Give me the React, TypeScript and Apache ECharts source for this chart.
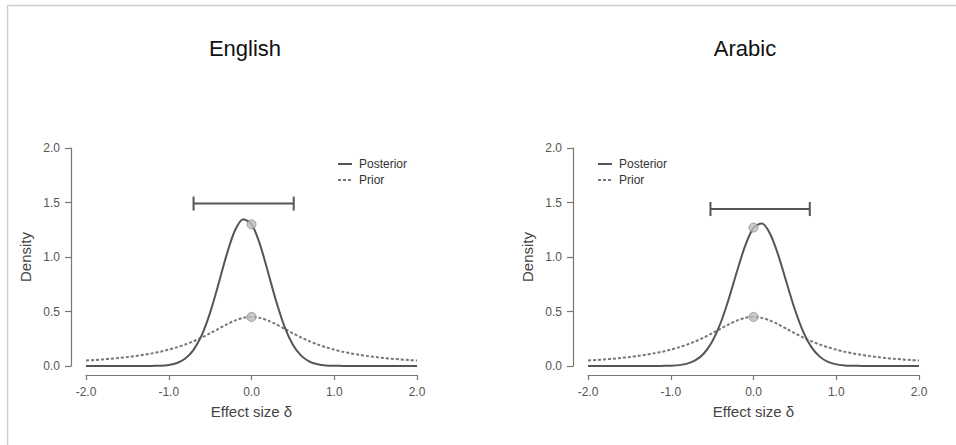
import React, { useEffect, useRef } from "react";
import * as echarts from "echarts";

const panelTitles = ["English", "Arabic"];
const seriesNames = ["Posterior", "Prior"];
const xTickLabels = ["-2.0", "-1.0", "0.0", "1.0", "2.0"];
const yTickLabels = ["0.0", "0.5", "1.0", "1.5", "2.0"];

const effectSize = [
  -2.0, -1.9, -1.8, -1.7, -1.6, -1.5, -1.4, -1.3, -1.2, -1.1, -1.0, -0.9, -0.8, -0.7,
  -0.6, -0.5, -0.4, -0.3, -0.2, -0.1, 0.0, 0.1, 0.2, 0.3, 0.4, 0.5, 0.6, 0.7, 0.8,
  0.9, 1.0, 1.1, 1.2, 1.3, 1.4, 1.5, 1.6, 1.7, 1.8, 1.9, 2.0,
];

const englishPosterior = [
  0.0, 0.0, 0.0, 0.0, 0.0, 0.0, 0.0, 0.0, 0.001, 0.003, 0.01, 0.028, 0.069, 0.148,
  0.285, 0.49, 0.749, 1.022, 1.243, 1.347, 1.301, 1.121, 0.86, 0.589, 0.359, 0.195,
  0.095, 0.041, 0.016, 0.005, 0.002, 0.001, 0.0, 0.0, 0.0, 0.0, 0.0, 0.0, 0.0, 0.0, 0.0,
];

const arabicPosterior = [
  0.0, 0.0, 0.0, 0.0, 0.0, 0.0, 0.0, 0.0, 0.0, 0.001, 0.003, 0.008, 0.022, 0.053,
  0.115, 0.223, 0.39, 0.613, 0.867, 1.104, 1.267, 1.307, 1.214, 1.015, 0.764, 0.518,
  0.316, 0.173, 0.086, 0.038, 0.015, 0.005, 0.002, 0.001, 0.0, 0.0, 0.0, 0.0, 0.0, 0.0, 0.0,
];

const priorDensity = [
  0.05, 0.0548, 0.0602, 0.0664, 0.0736, 0.0819, 0.0915, 0.1028, 0.116, 0.1316, 0.1501,
  0.1718, 0.1975, 0.2274, 0.2617, 0.3001, 0.3411, 0.3815, 0.4169, 0.4414, 0.4502,
  0.4414, 0.4169, 0.3815, 0.3411, 0.3001, 0.2617, 0.2274, 0.1975, 0.1718, 0.1501,
  0.1316, 0.116, 0.1028, 0.0915, 0.0819, 0.0736, 0.0664, 0.0602, 0.0548, 0.05,
];

// credible interval [lower, upper, drawn height]
const englishInterval = [-0.7, 0.51, 1.49];
const arabicInterval = [-0.52, 0.68, 1.44];

// densities at delta = 0 [posterior, prior]
const englishAtZero = [1.3, 0.45];
const arabicAtZero = [1.27, 0.45];

const posteriors = [englishPosterior, arabicPosterior];
const intervals = [englishInterval, arabicInterval];
const atZero = [englishAtZero, arabicAtZero];

const gridLefts = [86, 588];
const legendLefts = [338, 598];
const titleCenters = [245, 745];

export default function App() {
  const ref = useRef<HTMLDivElement>(null);

  useEffect(() => {
    if (!ref.current) return;
    const chart = echarts.init(ref.current, null, { renderer: "svg" });

    const axisColor = "#777";
    const labelColor = "#555";
    const font = "'Liberation Sans', Arial, Helvetica, sans-serif";
    const posteriorStyle = { color: "#555", width: 2 };
    const priorStyle = { color: "#777", width: 2, dash: [3, 2] };

    const grids: any[] = [];
    const xAxes: any[] = [];
    const yAxes: any[] = [];
    const series: any[] = [];
    const graphics: any[] = [
      { type: "line", shape: { x1: 7, y1: 5.5, x2: 956, y2: 5.5 }, style: { stroke: "#cfcfcf", lineWidth: 1.5 } },
      { type: "line", shape: { x1: 7.5, y1: 5, x2: 7.5, y2: 445 }, style: { stroke: "#cfcfcf", lineWidth: 1.5 } },
    ];

    for (let p = 0; p < 2; p++) {
      grids.push({ left: gridLefts[p], top: 148, width: 331, height: 218 });
      xAxes.push({
        type: "value",
        gridIndex: p,
        min: -2,
        max: 2,
        interval: 1,
        offset: 9,
        name: "Effect size δ",
        nameLocation: "middle",
        nameGap: 29,
        nameTextStyle: { fontSize: 15, color: "#444", fontFamily: font },
        axisLine: { show: true, onZero: false, lineStyle: { color: axisColor, width: 1.2 } },
        axisTick: { show: true, length: 5, lineStyle: { color: axisColor, width: 1.2 } },
        axisLabel: {
          fontSize: 12,
          color: labelColor,
          margin: 11,
          fontFamily: font,
          formatter: (v: number) => xTickLabels[Math.round(v + 2)],
        },
        splitLine: { show: false },
      });
      yAxes.push({
        type: "value",
        gridIndex: p,
        min: 0,
        max: 2,
        interval: 0.5,
        offset: 15,
        name: "Density",
        nameLocation: "middle",
        nameGap: 38,
        nameTextStyle: { fontSize: 15, color: "#444", fontFamily: font },
        axisLine: { show: true, onZero: false, lineStyle: { color: axisColor, width: 1.2 } },
        axisTick: { show: true, length: 6, lineStyle: { color: axisColor, width: 1.2 } },
        axisLabel: {
          fontSize: 12,
          color: labelColor,
          margin: 11,
          fontFamily: font,
          formatter: (v: number) => yTickLabels[Math.round(v * 2)],
        },
        splitLine: { show: false },
      });

      series.push({
        name: seriesNames[1],
        type: "line",
        xAxisIndex: p,
        yAxisIndex: p,
        data: effectSize.map((x, i) => [x, priorDensity[i]]),
        smooth: 0.3,
        symbol: "none",
        lineStyle: { color: priorStyle.color, width: priorStyle.width, type: priorStyle.dash },
        itemStyle: { color: priorStyle.color },
        z: 2,
      });
      series.push({
        name: seriesNames[0],
        type: "line",
        xAxisIndex: p,
        yAxisIndex: p,
        data: effectSize.map((x, i) => [x, posteriors[p][i]]),
        smooth: 0.3,
        symbol: "none",
        lineStyle: { color: posteriorStyle.color, width: posteriorStyle.width },
        itemStyle: { color: posteriorStyle.color },
        z: 3,
      });
      series.push({
        type: "scatter",
        xAxisIndex: p,
        yAxisIndex: p,
        data: atZero[p].map((v) => [0, v]),
        symbolSize: 9,
        itemStyle: { color: "#bdbdbd", borderColor: "#8a8a8a", borderWidth: 1 },
        z: 4,
      });
      series.push({
        type: "custom",
        xAxisIndex: p,
        yAxisIndex: p,
        data: [intervals[p]],
        renderItem: (params: any, api: any) => {
          const a = api.coord([api.value(0), api.value(2)]);
          const b = api.coord([api.value(1), api.value(2)]);
          const st = { stroke: "#555", lineWidth: 2 };
          return {
            type: "group",
            children: [
              { type: "line", shape: { x1: a[0], y1: a[1], x2: b[0], y2: b[1] }, style: st },
              { type: "line", shape: { x1: a[0], y1: a[1] - 7, x2: a[0], y2: a[1] + 7 }, style: st },
              { type: "line", shape: { x1: b[0], y1: b[1] - 7, x2: b[0], y2: b[1] + 7 }, style: st },
            ],
          };
        },
        z: 3,
      });

      // title
      graphics.push({
        type: "text",
        x: titleCenters[p],
        y: 48,
        style: {
          text: panelTitles[p],
          fontSize: 22,
          fontFamily: font,
          fill: "#111",
          align: "center",
          verticalAlign: "middle",
        },
      });
      // legend
      const lx = legendLefts[p];
      graphics.push({
        type: "line",
        shape: { x1: lx, y1: 164, x2: lx + 14, y2: 164 },
        style: { stroke: posteriorStyle.color, lineWidth: posteriorStyle.width },
      });
      graphics.push({
        type: "line",
        shape: { x1: lx, y1: 180, x2: lx + 14, y2: 180 },
        style: { stroke: priorStyle.color, lineWidth: priorStyle.width, lineDash: priorStyle.dash },
      });
      seriesNames.forEach((name, i) => {
        graphics.push({
          type: "text",
          x: lx + 21,
          y: 164 + i * 16,
          style: {
            text: name,
            fontSize: 12,
            fontFamily: font,
            fill: "#333",
            align: "left",
            verticalAlign: "middle",
          },
        });
      });
    }

    chart.setOption({
      animation: false,
      backgroundColor: "#fff",
      grid: grids,
      xAxis: xAxes,
      yAxis: yAxes,
      series,
      graphic: graphics,
    });

    return () => chart.dispose();
  }, []);

  return (
    <div
      ref={ref}
      style={{ position: "fixed", left: 0, top: 0, width: 956, height: 445, background: "#fff" }}
    />
  );
}
